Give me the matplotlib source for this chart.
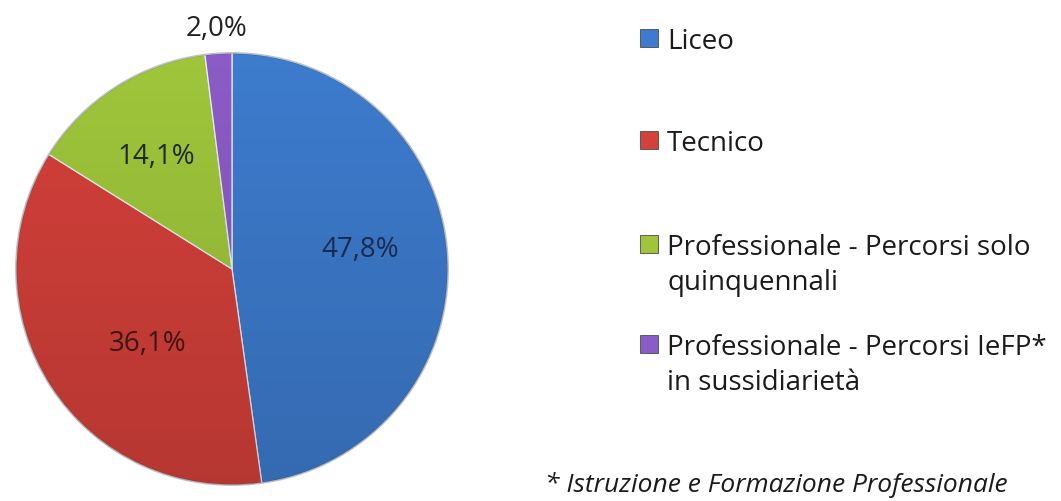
import matplotlib
matplotlib.use("Agg")
import matplotlib.pyplot as plt
from matplotlib.patches import Rectangle, Circle
import numpy as np

categories = [
    "Liceo",
    "Tecnico",
    "Professionale - Percorsi solo\nquinquennali",
    "Professionale - Percorsi IeFP*\nin sussidiarietà",
]
values = [47.8, 36.1, 14.1, 2.0]
footnote = "* Istruzione e Formazione Professionale"

colors = ["#3D7BCD", "#D4403A", "#9FC63B", "#8B5CC6"]
label_colors = ["#1A2B4F", "#3D1513", "#1E2A0C", "#222222"]

plt.rcParams["font.family"] = ["Open Sans", "DejaVu Sans"]

fig = plt.figure(figsize=(10.61, 5.02), dpi=100)
fig.patch.set_facecolor("white")

# axes in pixel units (y up), so layout can be read straight off the reference
H = 502
ax = fig.add_axes([0, 0, 1, 1])

cx, cy, r = 232, H - 270, 216
wedges, texts, autotexts = ax.pie(
    values, colors=colors, startangle=90, counterclock=False,
    center=(cx, cy), radius=r, frame=True,
    autopct=lambda p: ("%.1f%%" % p).replace(".", ","),
    wedgeprops=dict(edgecolor="#E8EEF6", linewidth=0.9),
    textprops=dict(fontsize=20),
)
ax.set_xlim(0, 1061)
ax.set_ylim(0, H)
ax.set_aspect("equal")
ax.axis("off")

# soft vertical shading over the pie (Excel-like bevel), darker toward the bottom
yy = np.linspace(0, 1, 200)[:, None] * np.ones((1, 2))
shade = np.zeros((200, 2, 4))
shade[..., 3] = 0.14 * yy
img = ax.imshow(shade, extent=(cx - r, cx + r, cy - r, cy + r),
                origin="upper", zorder=3, interpolation="bilinear")
img.set_clip_path(Circle((cx, cy), r, transform=ax.transData))
ax.add_patch(Circle((cx, cy), r, fill=False, edgecolor="#00000030",
                    linewidth=1.5, zorder=3))
ax.set_xlim(0, 1061)
ax.set_ylim(0, H)

# label distance / angle tweak per slice
dists = [0.60, 0.52, 0.63, 1.12]
dang = [5, 8, 1, 0]
for w, t, d, da, c in zip(wedges, autotexts, dists, dang, label_colors):
    ang = np.deg2rad((w.theta1 + w.theta2) / 2.0 + da)
    t.set_position((cx + d * r * np.cos(ang), cy + d * r * np.sin(ang)))
    t.set_color(c)
    t.set_zorder(5)

# legend drawn by hand: square + text lines, baselines from the reference
sq = 18
pitch = 35
baselines = [49, 151, 255, 355]
for lab, col, b in zip(categories, colors, baselines):
    y = H - b
    ax.add_patch(Rectangle((640, y + 1), sq, sq, facecolor=col,
                           edgecolor="#4a4a4a", linewidth=0.6))
    for i, line in enumerate(lab.split("\n")):
        ax.text(667, y - i * pitch, line, fontsize=20, va="baseline",
                ha="left", color="#1a1a1a")

ax.text(545, H - 492, footnote, fontsize=19, style="italic", va="baseline",
        ha="left", color="#1a1a1a")

fig.savefig("out.png", dpi=100, facecolor="white")
